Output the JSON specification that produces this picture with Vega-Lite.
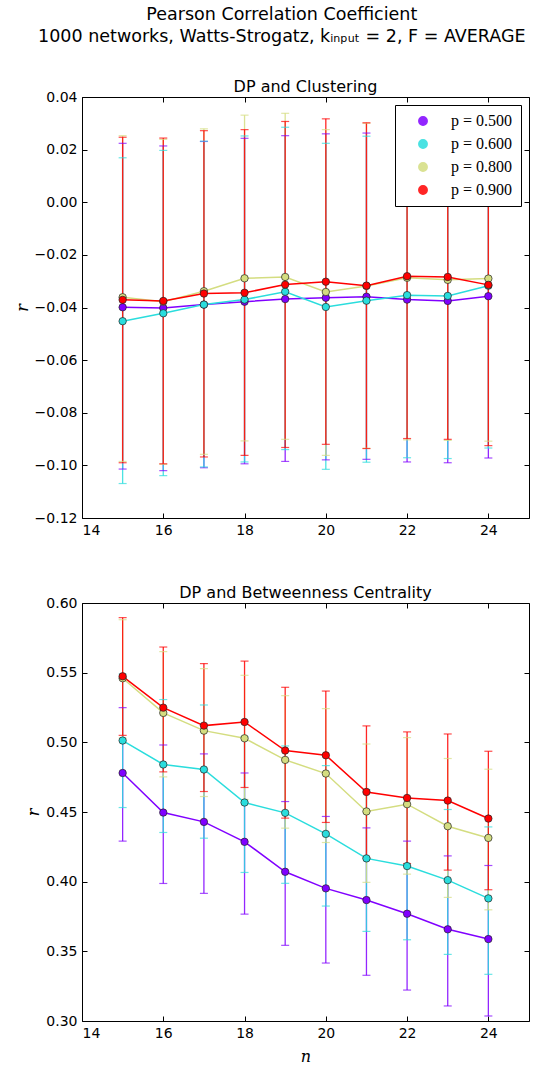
{
  "$schema": "https://vega.github.io/schema/vega-lite/v6.json",
  "background": "white",
  "padding": {"left": 13, "top": 6, "right": 5, "bottom": 5},
  "title": {
    "text": ["Pearson Correlation Coefficient", "1000 networks, Watts-Strogatz, kᵢₙₚᵤₜ = 2, F = AVERAGE"],
    "font": "DejaVu Sans", "fontSize": 17.5, "fontWeight": "normal", "color": "black",
    "anchor": "middle", "lineHeight": 22, "offset": 33, "dx": 10
  },
  "config": {
    "view": {"stroke": "black", "strokeWidth": 1},
    "axis": {
      "domain": false, "grid": false,
      "labelFont": "DejaVu Sans", "labelFontSize": 14, "labelColor": "black",
      "tickColor": "black", "tickSize": -5, "labelPadding": 10,
      "titleFont": "DejaVu Serif", "titleFontStyle": "italic", "titleFontWeight": "normal", "titleFontSize": 16, "titleColor": "black"
    },
    "title": {"font": "DejaVu Sans", "fontSize": 16, "fontWeight": "normal", "color": "black", "offset": -5}
  },
  "datasets": {
    "clust": [
      {"n": 15, "p": "0.500", "r": -0.0399, "lo": -0.1014, "hi": 0.0224},
      {"n": 15, "p": "0.600", "r": -0.0452, "lo": -0.1069, "hi": 0.0169},
      {"n": 15, "p": "0.800", "r": -0.0361, "lo": -0.0985, "hi": 0.0253},
      {"n": 15, "p": "0.900", "r": -0.0371, "lo": -0.0990, "hi": 0.0247},
      {"n": 16, "p": "0.500", "r": -0.0402, "lo": -0.1020, "hi": 0.0214},
      {"n": 16, "p": "0.600", "r": -0.0422, "lo": -0.1039, "hi": 0.0197},
      {"n": 16, "p": "0.800", "r": -0.0378, "lo": -0.0996, "hi": 0.0239},
      {"n": 16, "p": "0.900", "r": -0.0375, "lo": -0.0994, "hi": 0.0244},
      {"n": 17, "p": "0.500", "r": -0.0389, "lo": -0.1009, "hi": 0.0231},
      {"n": 17, "p": "0.600", "r": -0.0389, "lo": -0.1006, "hi": 0.0232},
      {"n": 17, "p": "0.800", "r": -0.0338, "lo": -0.0958, "hi": 0.0279},
      {"n": 17, "p": "0.900", "r": -0.0347, "lo": -0.0968, "hi": 0.0272},
      {"n": 18, "p": "0.500", "r": -0.0378, "lo": -0.0994, "hi": 0.0243},
      {"n": 18, "p": "0.600", "r": -0.0370, "lo": -0.0987, "hi": 0.0252},
      {"n": 18, "p": "0.800", "r": -0.0289, "lo": -0.0907, "hi": 0.0331},
      {"n": 18, "p": "0.900", "r": -0.0344, "lo": -0.0962, "hi": 0.0276},
      {"n": 19, "p": "0.500", "r": -0.0368, "lo": -0.0985, "hi": 0.0253},
      {"n": 19, "p": "0.600", "r": -0.0340, "lo": -0.0940, "hi": 0.0285},
      {"n": 19, "p": "0.800", "r": -0.0284, "lo": -0.0901, "hi": 0.0338},
      {"n": 19, "p": "0.900", "r": -0.0313, "lo": -0.0932, "hi": 0.0307},
      {"n": 20, "p": "0.500", "r": -0.0363, "lo": -0.0979, "hi": 0.0260},
      {"n": 20, "p": "0.600", "r": -0.0398, "lo": -0.1015, "hi": 0.0224},
      {"n": 20, "p": "0.800", "r": -0.0341, "lo": -0.0962, "hi": 0.0276},
      {"n": 20, "p": "0.900", "r": -0.0302, "lo": -0.0920, "hi": 0.0317},
      {"n": 21, "p": "0.500", "r": -0.0359, "lo": -0.0977, "hi": 0.0263},
      {"n": 21, "p": "0.600", "r": -0.0374, "lo": -0.0988, "hi": 0.0251},
      {"n": 21, "p": "0.800", "r": -0.0318, "lo": -0.0935, "hi": 0.0300},
      {"n": 21, "p": "0.900", "r": -0.0317, "lo": -0.0936, "hi": 0.0302},
      {"n": 22, "p": "0.500", "r": -0.0370, "lo": -0.0987, "hi": 0.0248},
      {"n": 22, "p": "0.600", "r": -0.0353, "lo": -0.0971, "hi": 0.0265},
      {"n": 22, "p": "0.800", "r": -0.0287, "lo": -0.0903, "hi": 0.0330},
      {"n": 22, "p": "0.900", "r": -0.0281, "lo": -0.0898, "hi": 0.0337},
      {"n": 23, "p": "0.500", "r": -0.0375, "lo": -0.0990, "hi": 0.0242},
      {"n": 23, "p": "0.600", "r": -0.0356, "lo": -0.0974, "hi": 0.0262},
      {"n": 23, "p": "0.800", "r": -0.0295, "lo": -0.0905, "hi": 0.0322},
      {"n": 23, "p": "0.900", "r": -0.0284, "lo": -0.0901, "hi": 0.0334},
      {"n": 24, "p": "0.500", "r": -0.0357, "lo": -0.0972, "hi": 0.0258},
      {"n": 24, "p": "0.600", "r": -0.0317, "lo": -0.0934, "hi": 0.0294},
      {"n": 24, "p": "0.800", "r": -0.0290, "lo": -0.0908, "hi": 0.0328},
      {"n": 24, "p": "0.900", "r": -0.0314, "lo": -0.0925, "hi": 0.0300}
    ],
    "betw": [
      {"n": 15, "p": "0.500", "r": 0.4780, "lo": 0.4291, "hi": 0.5249},
      {"n": 15, "p": "0.600", "r": 0.5013, "lo": 0.4532, "hi": 0.5490},
      {"n": 15, "p": "0.800", "r": 0.5460, "lo": 0.5030, "hi": 0.5880},
      {"n": 15, "p": "0.900", "r": 0.5474, "lo": 0.5050, "hi": 0.5895},
      {"n": 16, "p": "0.500", "r": 0.4496, "lo": 0.3987, "hi": 0.4981},
      {"n": 16, "p": "0.600", "r": 0.4841, "lo": 0.4353, "hi": 0.5307},
      {"n": 16, "p": "0.800", "r": 0.5211, "lo": 0.4752, "hi": 0.5651},
      {"n": 16, "p": "0.900", "r": 0.5249, "lo": 0.4788, "hi": 0.5684},
      {"n": 17, "p": "0.500", "r": 0.4429, "lo": 0.3916, "hi": 0.4917},
      {"n": 17, "p": "0.600", "r": 0.4805, "lo": 0.4312, "hi": 0.5268},
      {"n": 17, "p": "0.800", "r": 0.5084, "lo": 0.4611, "hi": 0.5529},
      {"n": 17, "p": "0.900", "r": 0.5120, "lo": 0.4647, "hi": 0.5565},
      {"n": 18, "p": "0.500", "r": 0.4286, "lo": 0.3767, "hi": 0.4780},
      {"n": 18, "p": "0.600", "r": 0.4568, "lo": 0.4066, "hi": 0.5040},
      {"n": 18, "p": "0.800", "r": 0.5029, "lo": 0.4590, "hi": 0.5481},
      {"n": 18, "p": "0.900", "r": 0.5146, "lo": 0.4676, "hi": 0.5583},
      {"n": 19, "p": "0.500", "r": 0.4071, "lo": 0.3543, "hi": 0.4575},
      {"n": 19, "p": "0.600", "r": 0.4494, "lo": 0.3988, "hi": 0.4974},
      {"n": 19, "p": "0.800", "r": 0.4874, "lo": 0.4384, "hi": 0.5335},
      {"n": 19, "p": "0.900", "r": 0.4941, "lo": 0.4456, "hi": 0.5395},
      {"n": 20, "p": "0.500", "r": 0.3952, "lo": 0.3416, "hi": 0.4468},
      {"n": 20, "p": "0.600", "r": 0.4343, "lo": 0.3825, "hi": 0.4833},
      {"n": 20, "p": "0.800", "r": 0.4776, "lo": 0.4281, "hi": 0.5242},
      {"n": 20, "p": "0.900", "r": 0.4907, "lo": 0.4425, "hi": 0.5368},
      {"n": 21, "p": "0.500", "r": 0.3868, "lo": 0.3328, "hi": 0.4386},
      {"n": 21, "p": "0.600", "r": 0.4167, "lo": 0.3643, "hi": 0.4660},
      {"n": 21, "p": "0.800", "r": 0.4504, "lo": 0.3995, "hi": 0.4988},
      {"n": 21, "p": "0.900", "r": 0.4644, "lo": 0.4170, "hi": 0.5118},
      {"n": 22, "p": "0.500", "r": 0.3770, "lo": 0.3222, "hi": 0.4291},
      {"n": 22, "p": "0.600", "r": 0.4112, "lo": 0.3583, "hi": 0.4600},
      {"n": 22, "p": "0.800", "r": 0.4556, "lo": 0.4054, "hi": 0.5034},
      {"n": 22, "p": "0.900", "r": 0.4601, "lo": 0.4130, "hi": 0.5075},
      {"n": 23, "p": "0.500", "r": 0.3658, "lo": 0.3108, "hi": 0.4185},
      {"n": 23, "p": "0.600", "r": 0.4011, "lo": 0.3478, "hi": 0.4518},
      {"n": 23, "p": "0.800", "r": 0.4398, "lo": 0.3887, "hi": 0.4884},
      {"n": 23, "p": "0.900", "r": 0.4582, "lo": 0.4083, "hi": 0.5060},
      {"n": 24, "p": "0.500", "r": 0.3588, "lo": 0.3036, "hi": 0.4116},
      {"n": 24, "p": "0.600", "r": 0.3880, "lo": 0.3335, "hi": 0.4393},
      {"n": 24, "p": "0.800", "r": 0.4314, "lo": 0.3798, "hi": 0.4807},
      {"n": 24, "p": "0.900", "r": 0.4453, "lo": 0.3942, "hi": 0.4936}
    ]
  },
  "vconcat": [
    {
      "width": 447, "height": 421,
      "title": "DP and Clustering",
      "data": {"name": "clust"},
      "layer": [
        {
          "mark": {"type": "rule", "strokeWidth": 1.3, "opacity": 0.85},
          "encoding": {
            "x": {"field": "n", "type": "quantitative", "scale": {"domain": [14, 25], "nice": false, "zero": false},
                  "axis": {"orient": "bottom", "values": [14, 16, 18, 20, 22, 24], "title": null}},
            "y": {"field": "lo", "type": "quantitative", "scale": {"domain": [-0.12, 0.04], "nice": false, "zero": false},
                  "axis": {"orient": "left", "values": [-0.12, -0.1, -0.08, -0.06, -0.04, -0.02, 0, 0.02, 0.04], "format": ".2f", "title": "r"}},
            "y2": {"field": "hi"},
            "color": {"field": "p", "type": "nominal",
                      "scale": {"domain": ["0.500", "0.600", "0.800", "0.900"], "range": ["#8000ff", "#2adddd", "#d4dd80", "#ff0000"]},
                      "legend": {"title": null, "orient": "top-right", "offset": 8, "fillColor": "white", "strokeColor": "black",
                                 "padding": 8, "labelExpr": "'p = ' + datum.label", "labelFont": "Liberation Serif", "labelFontSize": 16, "labelColor": "black",
                                 "symbolType": "circle", "symbolSize": 70, "rowPadding": 7, "labelOffset": 20, "symbolOffset": 12,
                                 "encode": {"symbols": {"update": {"fill": {"scale": "color", "field": "value"}, "stroke": {"value": "#222"}, "strokeWidth": {"value": 0.7}, "opacity": {"value": 1}}}}}}
          }
        },
        {
          "mark": {"type": "tick", "orient": "horizontal", "size": 8, "thickness": 1.2, "opacity": 0.7},
          "encoding": {
            "x": {"field": "n", "type": "quantitative", "axis": null},
            "y": {"field": "hi", "type": "quantitative", "axis": null},
            "color": {"field": "p", "type": "nominal"}
          }
        },
        {
          "mark": {"type": "tick", "orient": "horizontal", "size": 8, "thickness": 1.2, "opacity": 0.7},
          "encoding": {
            "x": {"field": "n", "type": "quantitative", "axis": null},
            "y": {"field": "lo", "type": "quantitative", "axis": null},
            "color": {"field": "p", "type": "nominal"}
          }
        },
        {
          "mark": {"type": "line", "strokeWidth": 1.5},
          "encoding": {
            "x": {"field": "n", "type": "quantitative", "axis": {"orient": "top", "values": [14, 16, 18, 20, 22, 24], "labels": false, "title": null, "labelPadding": 0}},
            "y": {"field": "r", "type": "quantitative", "axis": {"orient": "right", "values": [-0.12, -0.1, -0.08, -0.06, -0.04, -0.02, 0, 0.02, 0.04], "labels": false, "title": null}},
            "color": {"field": "p", "type": "nominal"}
          }
        },
        {
          "mark": {"type": "point", "filled": true, "size": 55, "stroke": "#222", "strokeWidth": 0.7, "opacity": 1},
          "encoding": {
            "x": {"field": "n", "type": "quantitative", "axis": null},
            "y": {"field": "r", "type": "quantitative", "axis": null},
            "color": {"field": "p", "type": "nominal"}
          }
        }
      ],
      "resolve": {"axis": {"x": "independent", "y": "independent"}}
    },
    {
      "width": 447, "height": 418,
      "title": "DP and Betweenness Centrality",
      "data": {"name": "betw"},
      "layer": [
        {
          "mark": {"type": "rule", "strokeWidth": 1.3, "opacity": 0.85},
          "encoding": {
            "x": {"field": "n", "type": "quantitative", "scale": {"domain": [14, 25], "nice": false, "zero": false},
                  "axis": {"orient": "bottom", "values": [14, 16, 18, 20, 22, 24], "title": "n", "titlePadding": 8}},
            "y": {"field": "lo", "type": "quantitative", "scale": {"domain": [0.3, 0.6], "nice": false, "zero": false},
                  "axis": {"orient": "left", "values": [0.3, 0.35, 0.4, 0.45, 0.5, 0.55, 0.6], "format": ".2f", "title": "r"}},
            "y2": {"field": "hi"},
            "color": {"field": "p", "type": "nominal", "legend": null}
          }
        },
        {
          "mark": {"type": "tick", "orient": "horizontal", "size": 8, "thickness": 1.2, "opacity": 0.7},
          "encoding": {
            "x": {"field": "n", "type": "quantitative", "axis": null},
            "y": {"field": "hi", "type": "quantitative", "axis": null},
            "color": {"field": "p", "type": "nominal", "legend": null}
          }
        },
        {
          "mark": {"type": "tick", "orient": "horizontal", "size": 8, "thickness": 1.2, "opacity": 0.7},
          "encoding": {
            "x": {"field": "n", "type": "quantitative", "axis": null},
            "y": {"field": "lo", "type": "quantitative", "axis": null},
            "color": {"field": "p", "type": "nominal", "legend": null}
          }
        },
        {
          "mark": {"type": "line", "strokeWidth": 1.5},
          "encoding": {
            "x": {"field": "n", "type": "quantitative", "axis": {"orient": "top", "values": [14, 16, 18, 20, 22, 24], "labels": false, "title": null, "labelPadding": 0}},
            "y": {"field": "r", "type": "quantitative", "axis": {"orient": "right", "values": [0.3, 0.35, 0.4, 0.45, 0.5, 0.55, 0.6], "labels": false, "title": null}},
            "color": {"field": "p", "type": "nominal", "legend": null}
          }
        },
        {
          "mark": {"type": "point", "filled": true, "size": 55, "stroke": "#222", "strokeWidth": 0.7, "opacity": 1},
          "encoding": {
            "x": {"field": "n", "type": "quantitative", "axis": null},
            "y": {"field": "r", "type": "quantitative", "axis": null},
            "color": {"field": "p", "type": "nominal", "legend": null}
          }
        }
      ],
      "resolve": {"axis": {"x": "independent", "y": "independent"}}
    }
  ],
  "spacing": 46,
  "resolve": {"legend": {"color": "independent"}}
}
